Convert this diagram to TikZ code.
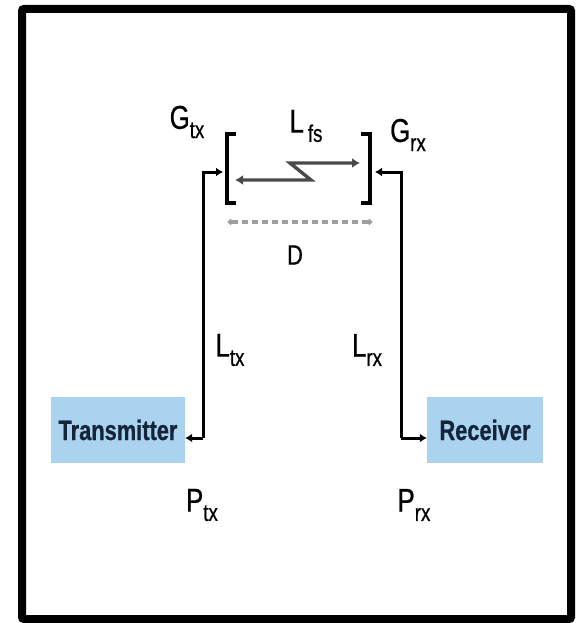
\documentclass[tikz,border=0pt]{standalone}
\usepackage{fontspec}
\usepackage{tikz}
\usetikzlibrary{arrows.meta,positioning,calc}
\newfontfamily\narrowfont[FakeStretch=0.78,FakeBold=0.6]{Liberation Sans}
\definecolor{boxblue}{HTML}{A9D3EE}
\definecolor{boxtext}{HTML}{14253A}
\definecolor{boltgray}{HTML}{4A4A4A}
\newcommand{\sublbl}[2]{#1\raisebox{-0.28em}{\fontsize{24}{24}\selectfont #2}}

\begin{document}
\begin{tikzpicture}[x=1pt,y=-1pt,
  every node/.style={font=\narrowfont\fontsize{33}{33}\selectfont,inner sep=0pt},
  unit/.style={fill=boxblue,minimum height=66pt,text=boxtext,font=\narrowfont\bfseries\fontsize{28}{28}\selectfont},
  feed/.style={line width=3pt,-{Latex[length=7pt,width=9pt]}},
  bracket/.style={line width=4.5pt,line cap=butt},
  bolt/.style={line width=3.4pt,boltgray,{Latex[length=8pt,width=10pt]}-{Latex[length=8pt,width=10pt]}},
  span/.style={line width=4pt,gray!75,dash pattern=on 6pt off 4pt,{Circle[length=5pt]}-{Circle[length=5pt]}}]
  \useasboundingbox (0,0) rectangle (575,623);
  % frame
  \draw[line width=8pt,rounded corners=2pt] (22,9) rectangle (571,619);
  % end boxes
  \node[unit,minimum width=134pt] (tx) at (118,430) {Transmitter};
  \node[unit,minimum width=116pt] (rx) at (485,430) {Receiver};
  % antenna brackets
  \coordinate (gtxin) at (223,172);
  \coordinate (grxin) at (375,172);
  \draw[bracket] (236,134) -- (227,134) -- (227,203) -- (236,203);
  \draw[bracket] (361,134) -- (370,134) -- (370,203) -- (361,203);
  % feed lines
  \coordinate (ltxtop) at (203,172);
  \coordinate (ltxfoot) at (203,438);
  \coordinate (lrxtop) at (401,172);
  \coordinate (lrxfoot) at (401,438);
  \draw[feed] (ltxfoot) -- (ltxtop) -- (gtxin);
  \draw[feed] (ltxfoot) -- (tx.east |- ltxfoot);
  \draw[feed] (lrxfoot) -- (lrxtop) -- (grxin);
  \draw[feed] (lrxfoot) -- (rx.west |- lrxfoot);
  % free space path
  \coordinate (boltlo) at (311,180);
  \coordinate (bolthi) at (290,163);
  \draw[bolt] (235,180) -- (boltlo) -- (bolthi) -- (360,163);
  \coordinate (dleft) at (228,222);
  \coordinate (dright) at (372,222);
  \draw[span] (dleft) -- (dright);
  % labels
  \node (gtx) at (187,122) {\sublbl{G}{tx}};
  \node (lfs) at (306,126) {\sublbl{L}{\,fs}};
  \node (grx) at (408,135) {\sublbl{G}{rx}};
  \node (dd) at (295,255) {\fontsize{28}{28}\selectfont D};
  \node (ltx) at (230,350) {\sublbl{L}{tx}};
  \node (lrx) at (367,350) {\sublbl{L}{rx}};
  \node (ptx) at (202,505) {\sublbl{P}{tx}};
  \node (prx) at (414,505) {\sublbl{P}{rx}};
\end{tikzpicture}
\end{document}
